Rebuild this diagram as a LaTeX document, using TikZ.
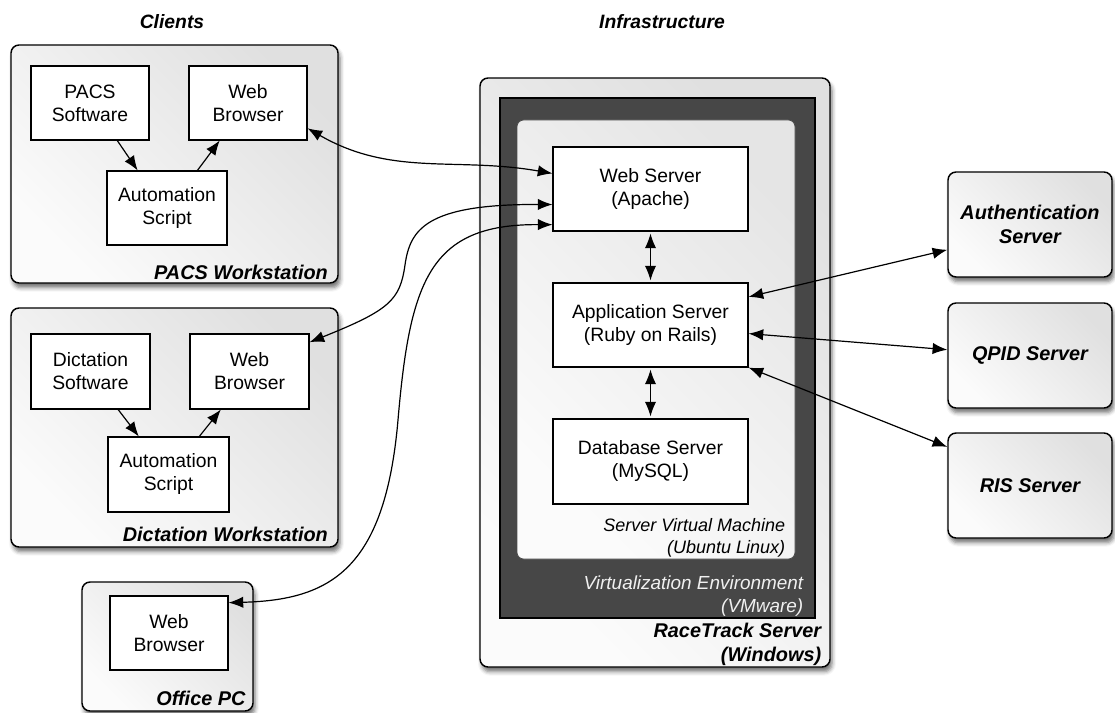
\documentclass[tikz,border=0pt]{standalone}
\usepackage{fontspec}
\setmainfont{Liberation Sans}
\usepackage{tikz}
\usetikzlibrary{arrows.meta,shadows.blur}

\newcommand{\cmpfont}{\fontsize{14.5}{17.25}\selectfont}
\newcommand{\hstfont}{\fontsize{14.9}{17.8}\selectfont\bfseries\itshape}
\newcommand{\envfont}{\fontsize{13.5}{16.5}\selectfont\itshape}

\tikzset{
    boxsize/.style 2 args={minimum width=#1*0.75pt, minimum height=#2*0.75pt},
    comp/.style={draw, fill=white, line width=0.8pt, align=center, font=\cmpfont, inner sep=0pt},
    host/.style={draw, rounded corners=6pt, line width=1.1pt, top color=gray!24, bottom color=gray!3,
        shading angle=-45, blur shadow={shadow xshift=1.5pt, shadow yshift=-3.5pt, shadow blur radius=3pt, shadow opacity=55}},
    ext/.style={host, align=center, font=\hstfont, inner sep=0pt},
    vmbox/.style={draw=black!70, rounded corners=5pt, line width=0.6pt, top color=gray!20, bottom color=gray!3, shading angle=-45},
    hostlabel/.style={font=\hstfont, align=right, inner sep=0pt},
    envlabel/.style={font=\envfont, align=right, inner sep=0pt},
    headlabel/.style={font=\fontsize{14.5}{17}\selectfont\bfseries\itshape},
    link/.style={line width=0.9pt}
}

\begin{document}
\begin{tikzpicture}[x=0.75pt, y=0.75pt, >={Latex[length=11pt,width=8.5pt]}]
    \useasboundingbox (0,0) rectangle (1115,-713);

    \node[headlabel] (hclients) at (172,-22) {Clients};
    \node[headlabel] (hinfra) at (662,-22) {Infrastructure};

    \node[host, boxsize={327}{238}] (pacs) at (174.5,-164) {};
    \node[comp, boxsize={118}{74}] (psw) at (90,-103) {PACS\\Software};
    \node[comp, boxsize={118}{74}] (pwb) at (248,-103) {Web\\Browser};
    \node[comp, boxsize={120}{74}] (pas) at (167,-208) {Automation\\Script};
    \node[hostlabel, anchor=base east] (pacslab) at ([xshift=-8pt,yshift=3.5pt]pacs.south east) {PACS Workstation};

    \node[host, boxsize={327}{239}] (dict) at (174.5,-427.5) {};
    \node[comp, boxsize={119}{75}] (dsw) at (90.5,-371.5) {Dictation\\Software};
    \node[comp, boxsize={119}{75}] (dwb) at (249.5,-371.5) {Web\\Browser};
    \node[comp, boxsize={121}{75}] (das) at (168.5,-474.5) {Automation\\Script};
    \node[hostlabel, anchor=base east] (dictlab) at ([xshift=-8pt,yshift=4.5pt]dict.south east) {Dictation Workstation};

    \node[host, boxsize={171}{129}] (office) at (167.5,-646.5) {};
    \node[comp, boxsize={118}{74}] (owb) at (169,-633) {Web\\Browser};
    \node[hostlabel, anchor=base east] (officelab) at ([xshift=-6pt,yshift=4.5pt]office.south east) {Office PC};

    \node[host, boxsize={350}{589}] (rt) at (655,-372.5) {};
    \node[draw, fill=black!72, line width=0.8pt, boxsize={315}{520}] (vmware) at (657.5,-358) {};
    \node[vmbox, boxsize={278}{439}] (vm) at (656,-339.5) {};
    \node[comp, boxsize={195}{84}] (ws) at (650.5,-189) {Web Server\\(Apache)};
    \node[comp, boxsize={195}{84}] (app) at (650.5,-325) {Application Server\\(Ruby on Rails)};
    \node[comp, boxsize={195}{85}] (db) at (650.5,-461.5) {Database Server\\(MySQL)};
    \node[envlabel, anchor=south east] (vmlab) at ([xshift=-7.5pt,yshift=1.5pt]vm.south east) {Server Virtual Machine\\(Ubuntu Linux)};
    \node[envlabel, font=\fontsize{14.2}{17.5}\selectfont\itshape, text=gray!12, anchor=south east] (vmwarelab) at ([xshift=-9pt,yshift=1.5pt]vmware.south east) {Virtualization Environment\\(VMware)};
    \node[hostlabel, anchor=south east] (rtlab) at ([xshift=-7pt,yshift=1.5pt]rt.south east) {RaceTrack Server\\(Windows)};

    \node[ext, boxsize={164}{105}] (auth) at (1030,-224.5) {Authentication\\Server};
    \node[ext, boxsize={164}{105}] (qpid) at (1030,-355.5) {QPID Server};
    \node[ext, boxsize={164}{105}] (ris) at (1030,-485.5) {RIS Server};

    \draw[link, ->] (psw.-54) -- (pas.128);
    \draw[link, ->] (pas.51) -- (pwb.233);
    \draw[link, ->] (dsw.-54) -- (das.128);
    \draw[link, ->] (das.51) -- (dwb.233);

    \draw[link, <->] (pwb.-23) to[out=-30, in=170] (ws.171);
    \draw[link, <->] (dwb.26) .. controls (390,-310) and (400,-300) .. (405,-265)
        .. controls (410,-230) and (425,-204) .. (ws.189);
    \draw[link, <->] (owb.27) .. controls (330,-600) and (385,-570) .. (398,-420)
        .. controls (410,-280) and (430,-224) .. (ws.200);

    \draw[link, <->, shorten <=1.5pt, shorten >=1.5pt] (ws) -- (app);
    \draw[link, <->, shorten <=1.5pt, shorten >=1.5pt] (app) -- (db);

    \draw[link, <->] (app.16) -- (auth.197);
    \draw[link, <->] (app.-5) -- (qpid.176);
    \draw[link, <->] (app.south east) -- (ris.155);
\end{tikzpicture}
\end{document}
